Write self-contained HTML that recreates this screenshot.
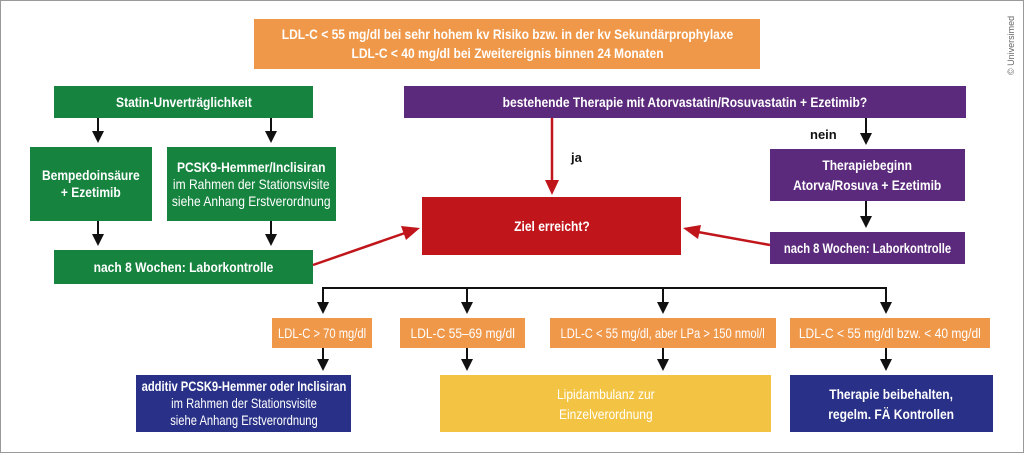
<!DOCTYPE html>
<html><head><meta charset="utf-8"><style>
body{margin:0;width:1024px;height:455px;background:#fff;position:relative;overflow:hidden;font-family:"Liberation Sans",sans-serif;}
.frame{position:absolute;left:0;top:0;width:1022px;height:451px;border:1px solid #999;}
.b{position:absolute;display:flex;flex-direction:column;align-items:center;justify-content:center;text-align:center;color:#fff;font-size:14px;line-height:17px;box-sizing:border-box;white-space:nowrap;}
.b span{display:inline-block;transform:scaleX(0.86);}
.b span.s{transform:scaleX(0.8);}
.o{background:#f0984a}.g{background:#16833f}.p{background:#5c2a7c}.r{background:#c0161b}.bl{background:#283087}.y{background:#f3c443}
b{font-weight:bold}
.t{position:absolute;font-size:13px;font-weight:bold;color:#111}
svg{position:absolute;left:0;top:0}
</style></head><body>
<div class="frame"></div>
<div class="b o" style="left:254px;top:19px;width:506px;height:50px;font-weight:bold;line-height:19px"><span>LDL-C &lt; 55 mg/dl bei sehr hohem kv Risiko bzw. in der kv Sekundärprophylaxe<br>LDL-C &lt; 40 mg/dl bei Zweitereignis binnen 24 Monaten</span></div>
<div class="b g" style="left:54px;top:86px;width:259px;height:32px;font-weight:bold"><span>Statin-Unverträglichkeit</span></div>
<div class="b p" style="left:404px;top:86px;width:562px;height:32px;font-weight:bold"><span>bestehende Therapie mit Atorvastatin/Rosuvastatin + Ezetimib?</span></div>
<div class="b g" style="left:30px;top:147px;width:122px;height:74px;font-weight:bold"><span>Bempedoinsäure<br>+ Ezetimib</span></div>
<div class="b g" style="left:167px;top:147px;width:169px;height:74px"><span><b>PCSK9-Hemmer/Inclisiran</b><br>im Rahmen der Stationsvisite<br>siehe Anhang Erstverordnung</span></div>
<div class="b g" style="left:54px;top:250px;width:259px;height:34px;font-weight:bold"><span>nach 8 Wochen: Laborkontrolle</span></div>
<div class="b r" style="left:422px;top:197px;width:259px;height:58px;font-weight:bold"><span>Ziel erreicht?</span></div>
<div class="b p" style="left:770px;top:149px;width:195px;height:52px;font-weight:bold;line-height:20px"><span>Therapiebeginn<br>Atorva/Rosuva + Ezetimib</span></div>
<div class="b p" style="left:770px;top:232px;width:195px;height:32px;font-weight:bold"><span class="s">nach 8 Wochen: Laborkontrolle</span></div>
<div class="t" style="left:571px;top:150px">ja</div>
<div class="t" style="left:810px;top:127px">nein</div>
<div class="b o" style="left:272px;top:318px;width:100px;height:30px"><span class="s">LDL-C &gt; 70 mg/dl</span></div>
<div class="b o" style="left:400px;top:318px;width:125px;height:30px"><span>LDL-C 55–69 mg/dl</span></div>
<div class="b o" style="left:550px;top:318px;width:226px;height:30px"><span class="s">LDL-C &lt; 55 mg/dl, aber LPa &gt; 150 nmol/l</span></div>
<div class="b o" style="left:790px;top:318px;width:200px;height:30px"><span>LDL-C &lt; 55 mg/dl bzw. &lt; 40 mg/dl</span></div>
<div class="b bl" style="left:136px;top:375px;width:215px;height:57px"><span class="s"><b>additiv PCSK9-Hemmer oder Inclisiran</b><br>im Rahmen der Stationsvisite<br>siehe Anhang Erstverordnung</span></div>
<div class="b y" style="left:440px;top:375px;width:331px;height:57px;line-height:20px"><span>Lipidambulanz zur<br>Einzelverordnung</span></div>
<div class="b bl" style="left:790px;top:375px;width:203px;height:57px;font-weight:bold;line-height:20px"><span>Therapie beibehalten,<br>regelm. FÄ Kontrollen</span></div>
<div style="position:absolute;left:1006px;top:75px;transform:rotate(-90deg);transform-origin:0 0;font-size:9px;color:#666;white-space:nowrap">© Universimed</div>
<svg width="1024" height="455">
<g stroke="#111" stroke-width="2" fill="none">
<line x1="98" y1="118" x2="98" y2="133"/><line x1="271" y1="118" x2="271" y2="133"/>
<line x1="98" y1="221" x2="98" y2="236"/><line x1="271" y1="221" x2="271" y2="236"/>
<line x1="866" y1="118" x2="866" y2="135"/><line x1="866" y1="201" x2="866" y2="218"/>
<polyline points="323,304 323,288 886,288 886,304"/>
<line x1="467" y1="288" x2="467" y2="304"/><line x1="663" y1="288" x2="663" y2="304"/>
<line x1="323" y1="348" x2="323" y2="361"/><line x1="467" y1="348" x2="467" y2="361"/><line x1="663" y1="348" x2="663" y2="361"/><line x1="886" y1="348" x2="886" y2="361"/>
</g>
<g fill="#111">
<path d="M92,131h12l-6,12z"/><path d="M265,131h12l-6,12z"/>
<path d="M92,234h12l-6,12z"/><path d="M265,234h12l-6,12z"/>
<path d="M860,133h12l-6,12z"/><path d="M860,216h12l-6,12z"/>
<path d="M317,302h12l-6,12z"/><path d="M461,302h12l-6,12z"/><path d="M657,302h12l-6,12z"/><path d="M880,302h12l-6,12z"/>
<path d="M317,359h12l-6,12z"/><path d="M461,359h12l-6,12z"/><path d="M657,359h12l-6,12z"/><path d="M880,359h12l-6,12z"/>
</g>
<g stroke="#c0161b" stroke-width="2.5" fill="#c0161b">
<line x1="552" y1="118" x2="552" y2="182"/>
<path d="M545,180h14l-7,15z" stroke="none"/>
<line x1="313" y1="265" x2="405" y2="233"/>
<path d="M420,228 L401,226 L406,240z" stroke="none"/>
<line x1="770" y1="245" x2="698" y2="232"/>
<path d="M683,228 L701,225 L698,239z" stroke="none"/>
</g>
</svg>
</body></html>
